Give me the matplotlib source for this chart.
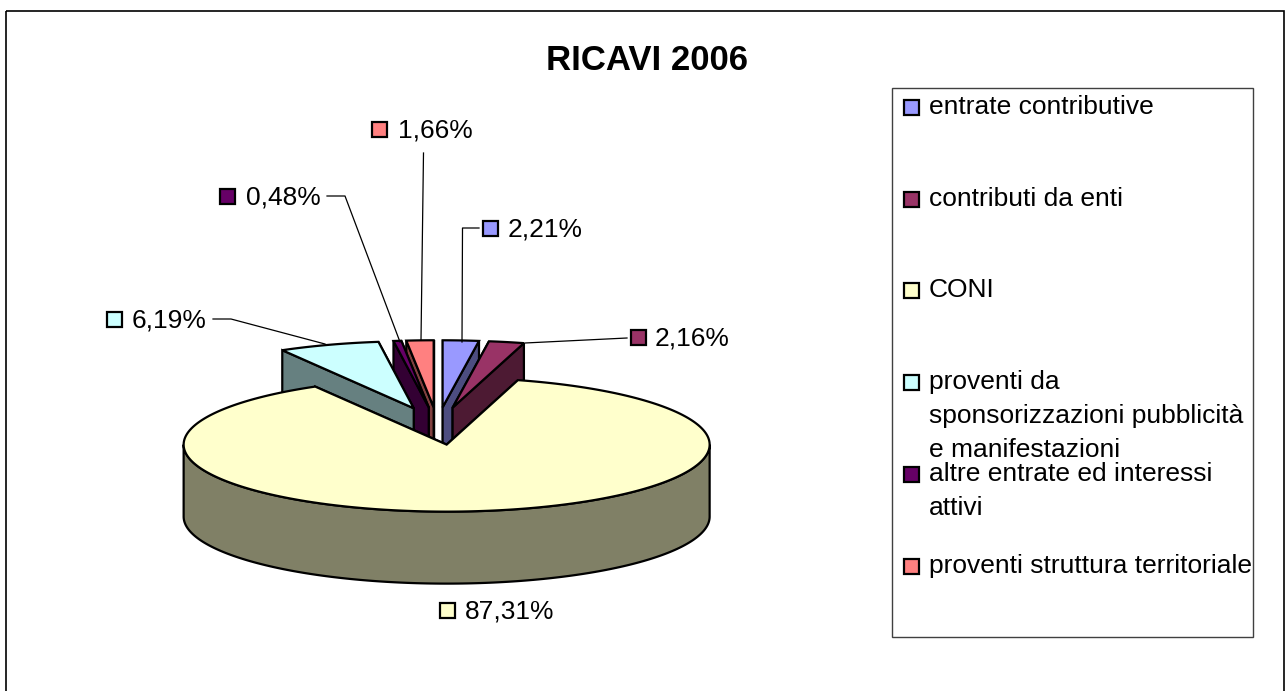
#!/usr/bin/env python
# coding:utf-8

import numpy as np
import matplotlib
matplotlib.use('Agg')
import matplotlib.pyplot as plt
from matplotlib.patches import Rectangle

title = 'RICAVI 2006'
categories = ['entrate contributive', 'contributi da enti', 'CONI',
              'proventi da\nsponsorizzazioni pubblicità\ne manifestazioni',
              'altre entrate ed interessi\nattivi',
              'proventi struttura territoriale']
values = [2.21, 2.16, 87.31, 6.19, 0.48, 1.66]

colors = ['#9999FF', '#993366', '#FFFFCC', '#CCFFFF', '#660066', '#FF8080']
side_colors = ['#4D4D80', '#4D1A33', '#808066', '#668080', '#330033', '#804040']
draw_order = [5, 4, 3, 0, 1, 2]

# pie layout, pixels
cx, cy = 437.5, 426.0
rx, ry = 263.0, 67.0
depth = 72.0
explode = 0.28

# label layout: square left, text left, centre y
label_pos = [(483, 508, 228), (631, 655, 337), (440, 465, 610),
             (107, 132, 319), (220, 246, 196), (372, 398, 129)]
leaders = [[(479, 228), (462.5, 228), (462, 342)],
           [(627, 338), (525, 343)],
           None,
           [(213, 319), (231, 319), (325, 344)],
           [(327, 196), (345, 196), (400, 342)],
           [(423.5, 153), (421, 340)]]
legend_y = [107, 199, 290, 382, 474, 566]
legend_line_y = [[107], [199], [290], [382, 416, 450], [474, 508], [566]]

plt.rcParams['font.family'] = ['Liberation Sans', 'DejaVu Sans']

fig = plt.figure(figsize=(12.85, 6.91), dpi=100)
ax = fig.add_axes([0, 0, 1, 1])
ax.set_xlim(0, 1285)
ax.set_ylim(691, 0)
ax.axis('off')


def draw_slice(start, end, color, side):
    mid = np.radians((start + end) / 2)
    ox = cx + explode * rx * np.sin(mid)
    oy = cy - explode * ry * np.cos(mid)
    t = np.radians(np.linspace(start, end, max(3, int(end - start) + 2)))
    rim_x = ox + rx * np.sin(t)
    rim_y = oy - ry * np.cos(t)
    # radial walls, the one nearer the viewer last
    for k in sorted((0, -1), key=lambda n: rim_y[n]):
        ax.fill([ox, rim_x[k], rim_x[k], ox],
                [oy, rim_y[k], rim_y[k] + depth, oy + depth],
                facecolor=side, edgecolor='black', linewidth=1.6)
    # only the front half of the rim can be seen
    lo, hi = max(start, 90), min(end, 270)
    if lo < hi:
        f = np.radians(np.linspace(lo, hi, int(hi - lo) + 2))
        fx = ox + rx * np.sin(f)
        fy = oy - ry * np.cos(f)
        ax.fill(np.r_[fx, fx[::-1]], np.r_[fy, fy[::-1] + depth],
                facecolor=side, edgecolor='black', linewidth=1.6)
    ax.fill(np.r_[ox, rim_x], np.r_[oy, rim_y], facecolor=color,
            edgecolor='black', linewidth=1.6)


total = sum(values)
edges = np.r_[0, np.cumsum(values)] / total * 360
for i in draw_order:
    draw_slice(edges[i], edges[i + 1], colors[i], side_colors[i])

for line in leaders:
    if line is not None:
        ax.plot([p[0] for p in line], [p[1] for p in line], color='black', linewidth=0.9)

for i, v in enumerate(values):
    sq, tx, y = label_pos[i]
    ax.add_patch(Rectangle((sq, y - 7.5), 15, 15, facecolor=colors[i],
                           edgecolor='black', linewidth=1.6))
    ax.text(tx, y + 1, ('%.2f%%' % v).replace('.', ','), fontsize=19, va='center', ha='left')

ax.text(647, 60, title, fontsize=25, fontweight='bold', ha='center', va='center')

# outer frame runs off the bottom of the picture, then the legend box
ax.add_patch(Rectangle((6, 11), 1278, 700, facecolor='none', edgecolor='black', linewidth=1.2))
ax.add_patch(Rectangle((891.5, 88), 361.5, 549, facecolor='white', edgecolor='#404040', linewidth=1.0))
for i, name in enumerate(categories):
    ax.add_patch(Rectangle((903.5, legend_y[i] - 7.5), 15, 15, facecolor=colors[i],
                           edgecolor='black', linewidth=1.6))
    for part, y in zip(name.split('\n'), legend_line_y[i]):
        ax.text(929, y, part, fontsize=19, va='center', ha='left')

fig.savefig('out.png', dpi=100)
